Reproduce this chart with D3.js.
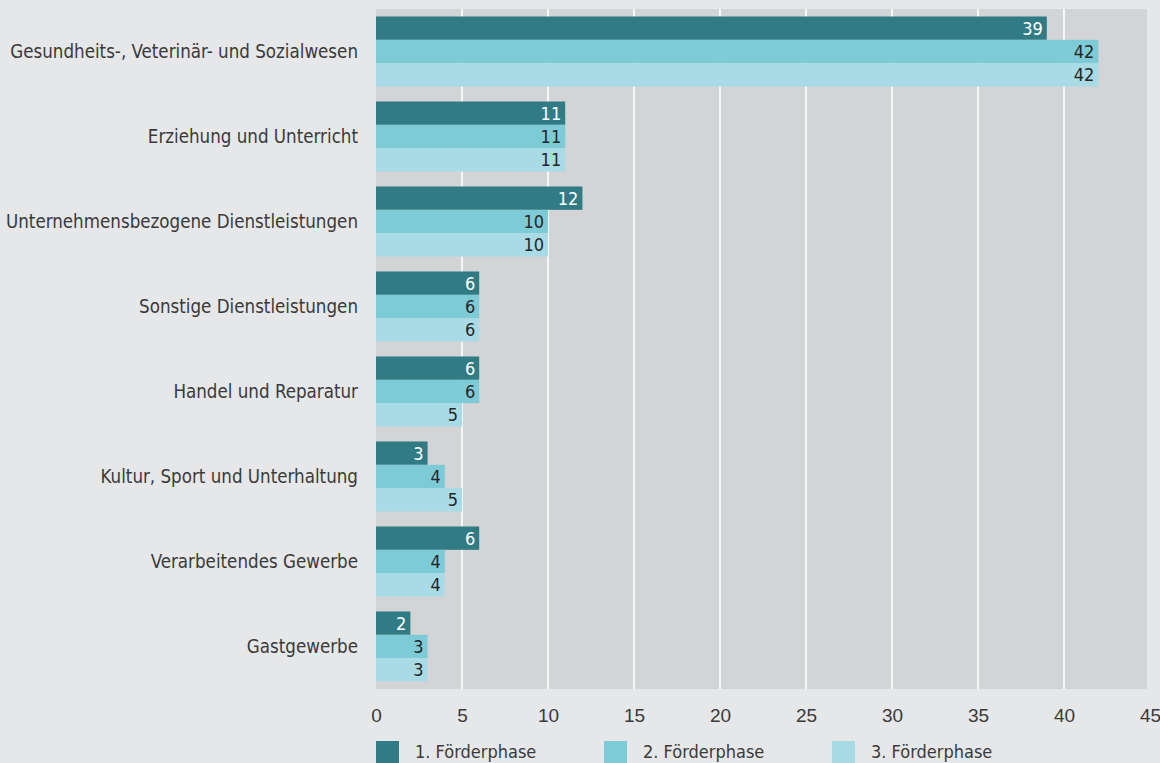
<!DOCTYPE html>
<html><head><meta charset="utf-8">
<script src="https://cdn.jsdelivr.net/npm/d3@7"></script>
<style>
html,body{margin:0;padding:0;background:#e6e7e9;}
svg{display:block;font-family:"DejaVu Sans Condensed","DejaVu Sans",sans-serif;}
</style></head>
<body><svg id="c" width="1160" height="763"></svg>
<script>
const categories = ["Gesundheits-, Veterinär- und Sozialwesen","Erziehung und Unterricht","Unternehmensbezogene Dienstleistungen","Sonstige Dienstleistungen","Handel und Reparatur","Kultur, Sport und Unterhaltung","Verarbeitendes Gewerbe","Gastgewerbe"];
const seriesNames = ["1. Förderphase","2. Förderphase","3. Förderphase"];
const phase1 = [39,11,12,6,6,3,6,2];
const phase2 = [42,11,10,6,6,4,4,3];
const phase3 = [42,11,10,6,5,5,4,3];
const xTicks = [0,5,10,15,20,25,30,35,40,45];
const colors = ["#317b85","#7ecbd8","#a8dbe5"];
const labelColors = ["#ffffff","#262626","#262626"];

const series = [phase1, phase2, phase3];
const svg = d3.select("#c");
const x = d3.scaleLinear().domain([0,45]).range([376,1150]);
const y = d3.scaleBand().domain(categories).range([9,689]).paddingInner(0.176).paddingOuter(0.088);
const y1 = d3.scaleBand().domain(d3.range(3)).range([0,y.bandwidth()]);

svg.append("rect").attr("x",x(0)).attr("y",9).attr("width",1147-x(0)).attr("height",680).attr("fill","#d3d4d6");
svg.append("g").selectAll("line").data(xTicks.filter(t=>t>0&&t<45)).join("line")
  .attr("x1",d=>x(d)).attr("x2",d=>x(d)).attr("y1",9).attr("y2",689)
  .attr("stroke","#ffffff").attr("stroke-width",1.6);

const g = svg.append("g").selectAll("g").data(categories).join("g")
  .attr("transform",d=>`translate(0,${y(d)})`);
series.forEach((s,si)=>{
  g.append("rect").attr("x",x(0)).attr("y",y1(si)).attr("height",y1.bandwidth())
    .attr("width",(d,i)=>x(s[i])-x(0)).attr("fill",colors[si]);
  g.append("text").attr("x",(d,i)=>x(s[i])-4).attr("y",y1(si)+y1.bandwidth()/2)
    .attr("dy","0.36em").attr("text-anchor","end").attr("font-size",18)
    .attr("fill",labelColors[si]).text((d,i)=>s[i]);
});
g.append("text").attr("x",358).attr("y",y.bandwidth()/2).attr("dy","0.36em")
  .attr("text-anchor","end").attr("font-size",18.6).attr("fill","#3a3a3a").text(d=>d);

const ax = svg.append("g").attr("transform","translate(0,689)")
  .call(d3.axisBottom(x).tickValues(xTicks).tickSize(0).tickPadding(20));
ax.select(".domain").remove();
ax.selectAll("text").attr("font-size",19).attr("fill","#3a3a3a").style("font-family","inherit");

const lg = svg.append("g").selectAll("g").data(seriesNames).join("g")
  .attr("transform",(d,i)=>`translate(${376+i*228},741)`);
lg.append("rect").attr("width",23).attr("height",23).attr("fill",(d,i)=>colors[i]);
lg.append("text").attr("x",39).attr("y",11).attr("dy","0.36em").attr("font-size",18).attr("fill","#3a3a3a").text(d=>d);
</script></body></html>
